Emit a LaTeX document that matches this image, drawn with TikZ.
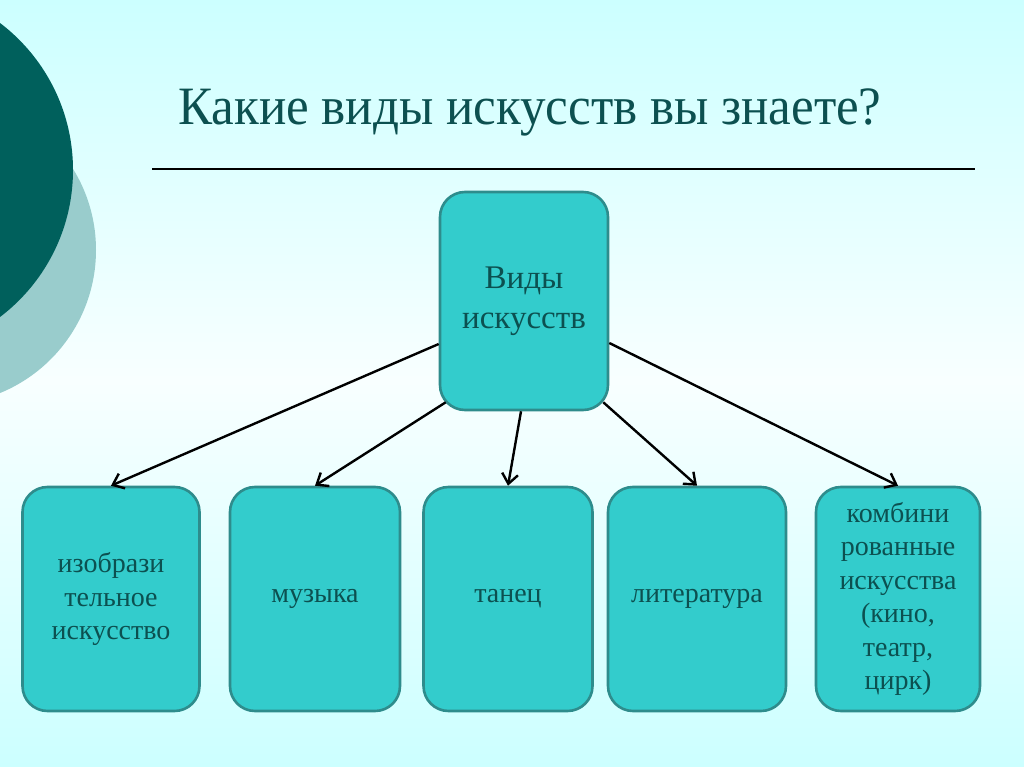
\documentclass[tikz,border=0pt]{standalone}
\usepackage{fontspec}
\setmainfont{Liberation Serif}
\usetikzlibrary{arrows.meta,calc}
\definecolor{bgcyan}{RGB}{204,255,255}
\definecolor{bgmid}{RGB}{248,255,255}
\definecolor{darkcirc}{RGB}{0,96,92}
\definecolor{lightcirc}{RGB}{153,204,204}
\definecolor{boxfill}{RGB}{51,204,204}
\definecolor{boxline}{RGB}{46,140,140}
\definecolor{tealtext}{RGB}{12,80,80}
\tikzset{
  artbox/.style={draw=boxline, line width=2.6pt, fill=boxfill, rounded corners=25pt,
    text=tealtext, align=center, inner sep=0pt},
  smallbox/.style={artbox, minimum height=224pt, font=\fontsize{28}{33.5}\selectfont},
  link/.style={draw=black, line width=2.4pt, -{Straight Barb[length=10pt,width=16pt,line width=2.4pt]}}
}
\begin{document}
\begin{tikzpicture}[x=1pt,y=-1pt]
\useasboundingbox (0,0) rectangle (1024,767);
% background
\shade[top color=bgcyan, bottom color=bgmid] (0,0) rectangle (1024,380);
\shade[top color=bgmid, bottom color=bgcyan] (0,380) rectangle (1024,767);
% decorative circles
\begin{scope}
\clip (0,0) rectangle (1024,767);
\fill[lightcirc] (-58.5,250) circle[radius=154.5];
\fill[darkcirc] (-111.5,170) circle[radius=184.5];
\end{scope}
% title
\node[anchor=base west, text=tealtext, font=\fontsize{54}{64}\selectfont, inner sep=0pt]
  (title) at (178,125) {\scalebox{0.945}[1]{Какие виды искусств вы знаете?}};
\coordinate (ruleL) at (152,169);
\coordinate (ruleR) at (975,169);
\draw[black, line width=1.5pt] (ruleL) -- (ruleR);
% central box
\node[artbox, minimum width=168pt, minimum height=218pt, font=\fontsize{33}{40}\selectfont]
  (c) at (524,301) {Виды\\искусств};
% bottom boxes
\node[smallbox, minimum width=177pt] (b1) at (111,599) {изобрази\\тельное\\искусство};
\node[smallbox, minimum width=170pt] (b2) at (315,599) {музыка};
\node[smallbox, minimum width=169pt] (b3) at (508,599) {танец};
\node[smallbox, minimum width=178pt] (b4) at (697,599) {литература};
\node[smallbox, minimum width=164pt] (b5) at (898,599) {комбини\\рованные\\искусства\\(кино,\\театр,\\цирк)};
% connectors
\coordinate (s1) at ($(c.west)+(0,43)$);
\coordinate (s2) at ($(c.south west)+(7,-9)$);
\coordinate (s3) at ($(c.south)+(-3,0)$);
\coordinate (s4) at ($(c.south east)+(-6,-9)$);
\coordinate (s5) at ($(c.east)+(0,42)$);
\draw[link] (s1) -- (b1.north);
\draw[link] (s2) -- (b2.north);
\draw[link] (s3) -- (b3.north);
\draw[link] (s4) -- (b4.north);
\draw[link] (s5) -- (b5.north);
\end{tikzpicture}
\end{document}
